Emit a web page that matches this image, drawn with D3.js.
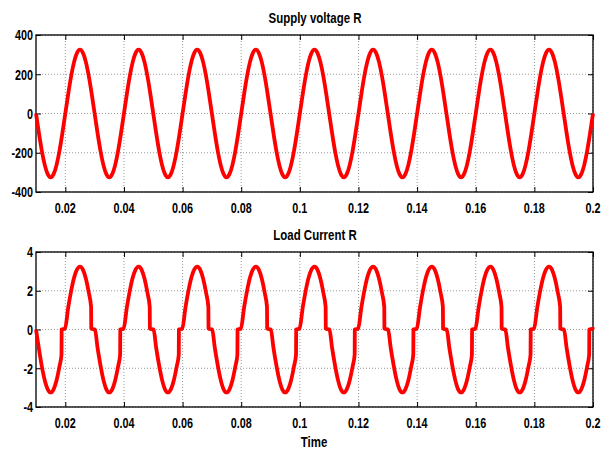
<!DOCTYPE html>
<html><head><meta charset="utf-8">
<script src="https://cdn.jsdelivr.net/npm/d3@7"></script>
<style>body{margin:0;background:#fff}svg{display:block}</style>
</head><body><svg id="c" width="612" height="450"></svg>
<script>
// ---- data ----
const xTicks = [0.02,0.04,0.06,0.08,0.1,0.12,0.14,0.16,0.18,0.2];
const xTickLabels = ["0.02","0.04","0.06","0.08","0.1","0.12","0.14","0.16","0.18","0.2"];
const voltTicks = [400,200,0,-200,-400];
const voltTickLabels = ["400","200","0","-200","-400"];
const currTicks = [4,2,0,-2,-4];
const currTickLabels = ["4","2","0","-2","-4"];
const titles = ["Supply voltage R","Load Current R"];
const xLabel = "Time";

// supply voltage, sampled every 1 ms from t = 0.010 s
const voltStart = 0.010, voltStep = 0.001;
const voltage = [
 0,-100,-191,-263,-309,-325,-309,-263,-191,-100, 0,100,191,263,309,325,309,263,191,100,
 0,-100,-191,-263,-309,-325,-309,-263,-191,-100, 0,100,191,263,309,325,309,263,191,100,
 0,-100,-191,-263,-309,-325,-309,-263,-191,-100, 0,100,191,263,309,325,309,263,191,100,
 0,-100,-191,-263,-309,-325,-309,-263,-191,-100, 0,100,191,263,309,325,309,263,191,100,
 0,-100,-191,-263,-309,-325,-309,-263,-191,-100, 0,100,191,263,309,325,309,263,191,100,
 0,-100,-191,-263,-309,-325,-309,-263,-191,-100, 0,100,191,263,309,325,309,263,191,100,
 0,-100,-191,-263,-309,-325,-309,-263,-191,-100, 0,100,191,263,309,325,309,263,191,100,
 0,-100,-191,-263,-309,-325,-309,-263,-191,-100, 0,100,191,263,309,325,309,263,191,100,
 0,-100,-191,-263,-309,-325,-309,-263,-191,-100, 0,100,191,263,309,325,309,263,191,100,
 0,-100,-191,-263,-309,-325,-309,-263,-191,-100, 0
];

// load current [time, value]
const current = [
 [0.010,0],[0.011,-1.0],[0.012,-1.91],[0.013,-2.63],[0.014,-3.09],[0.015,-3.25],[0.016,-3.09],[0.017,-2.63],[0.018,-1.91],[0.0187,-1.3],[0.01875,0],[0.0199,0.05],
 [0.021,1.15],[0.022,2.0],[0.023,2.68],[0.024,3.1],[0.025,3.25],[0.026,3.09],[0.027,2.63],[0.028,1.91],[0.0288,1.15],[0.02885,0.05],[0.0301,0],
 [0.031,-0.95],[0.032,-1.85],[0.033,-2.6],[0.034,-3.09],[0.035,-3.25],[0.036,-3.09],[0.037,-2.63],[0.038,-1.91],[0.0387,-1.3],[0.03875,0],[0.0399,0.05],
 [0.041,1.15],[0.042,2.0],[0.043,2.68],[0.044,3.1],[0.045,3.25],[0.046,3.09],[0.047,2.63],[0.048,1.91],[0.0488,1.15],[0.04885,0.05],[0.0501,0],
 [0.051,-0.95],[0.052,-1.85],[0.053,-2.6],[0.054,-3.09],[0.055,-3.25],[0.056,-3.09],[0.057,-2.63],[0.058,-1.91],[0.0587,-1.3],[0.05875,0],[0.0599,0.05],
 [0.061,1.15],[0.062,2.0],[0.063,2.68],[0.064,3.1],[0.065,3.25],[0.066,3.09],[0.067,2.63],[0.068,1.91],[0.0688,1.15],[0.06885,0.05],[0.0701,0],
 [0.071,-0.95],[0.072,-1.85],[0.073,-2.6],[0.074,-3.09],[0.075,-3.25],[0.076,-3.09],[0.077,-2.63],[0.078,-1.91],[0.0787,-1.3],[0.07875,0],[0.0799,0.05],
 [0.081,1.15],[0.082,2.0],[0.083,2.68],[0.084,3.1],[0.085,3.25],[0.086,3.09],[0.087,2.63],[0.088,1.91],[0.0888,1.15],[0.08885,0.05],[0.0901,0],
 [0.091,-0.95],[0.092,-1.85],[0.093,-2.6],[0.094,-3.09],[0.095,-3.25],[0.096,-3.09],[0.097,-2.63],[0.098,-1.91],[0.0987,-1.3],[0.09875,0],[0.0999,0.05],
 [0.101,1.15],[0.102,2.0],[0.103,2.68],[0.104,3.1],[0.105,3.25],[0.106,3.09],[0.107,2.63],[0.108,1.91],[0.1088,1.15],[0.10885,0.05],[0.1101,0],
 [0.111,-0.95],[0.112,-1.85],[0.113,-2.6],[0.114,-3.09],[0.115,-3.25],[0.116,-3.09],[0.117,-2.63],[0.118,-1.91],[0.1187,-1.3],[0.11875,0],[0.1199,0.05],
 [0.121,1.15],[0.122,2.0],[0.123,2.68],[0.124,3.1],[0.125,3.25],[0.126,3.09],[0.127,2.63],[0.128,1.91],[0.1288,1.15],[0.12885,0.05],[0.1301,0],
 [0.131,-0.95],[0.132,-1.85],[0.133,-2.6],[0.134,-3.09],[0.135,-3.25],[0.136,-3.09],[0.137,-2.63],[0.138,-1.91],[0.1387,-1.3],[0.13875,0],[0.1399,0.05],
 [0.141,1.15],[0.142,2.0],[0.143,2.68],[0.144,3.1],[0.145,3.25],[0.146,3.09],[0.147,2.63],[0.148,1.91],[0.1488,1.15],[0.14885,0.05],[0.1501,0],
 [0.151,-0.95],[0.152,-1.85],[0.153,-2.6],[0.154,-3.09],[0.155,-3.25],[0.156,-3.09],[0.157,-2.63],[0.158,-1.91],[0.1587,-1.3],[0.15875,0],[0.1599,0.05],
 [0.161,1.15],[0.162,2.0],[0.163,2.68],[0.164,3.1],[0.165,3.25],[0.166,3.09],[0.167,2.63],[0.168,1.91],[0.1688,1.15],[0.16885,0.05],[0.1701,0],
 [0.171,-0.95],[0.172,-1.85],[0.173,-2.6],[0.174,-3.09],[0.175,-3.25],[0.176,-3.09],[0.177,-2.63],[0.178,-1.91],[0.1787,-1.3],[0.17875,0],[0.1799,0.05],
 [0.181,1.15],[0.182,2.0],[0.183,2.68],[0.184,3.1],[0.185,3.25],[0.186,3.09],[0.187,2.63],[0.188,1.91],[0.1888,1.15],[0.18885,0.05],[0.1901,0],
 [0.191,-0.95],[0.192,-1.85],[0.193,-2.6],[0.194,-3.09],[0.195,-3.25],[0.196,-3.09],[0.197,-2.63],[0.198,-1.91],[0.1987,-1.3],[0.19875,0],[0.1999,0.05],
 [0.2000,0.12]
];

// ---- drawing ----
const svg = d3.select("#c");
const FONT = "'Liberation Sans', Arial, Helvetica, sans-serif";
const left = 36, right = 593;
const x = d3.scaleLinear().domain([0.01, 0.2]).range([left, right]);

function label(g, px, py, txt, anchor, size, sx) {
  g.append("text")
    .attr("transform", `translate(${px},${py}) scale(${sx},1)`)
    .attr("text-anchor", anchor)
    .attr("font-family", FONT)
    .attr("font-weight", "bold")
    .attr("font-size", size)
    .attr("fill", "#000")
    .text(txt);
}

function panel(top, bottom, yDomain, yTicks, yLabels, points, curve, title) {
  const y = d3.scaleLinear().domain(yDomain).range([bottom, top]);
  const g = svg.append("g");

  // grid
  const grid = g.append("g").attr("stroke", "#7f7f7f").attr("stroke-width", 0.8).attr("stroke-dasharray", "1,2");
  xTicks.forEach(t => grid.append("line").attr("x1", x(t)).attr("x2", x(t)).attr("y1", top).attr("y2", bottom));
  yTicks.forEach(t => grid.append("line").attr("x1", left).attr("x2", right).attr("y1", y(t)).attr("y2", y(t)));

  // axes with inward ticks
  const axB = g.append("g").attr("transform", `translate(0,${bottom})`)
    .call(d3.axisBottom(x).tickValues(xTicks).tickSize(-5).tickFormat(""));
  const axT = g.append("g").attr("transform", `translate(0,${top})`)
    .call(d3.axisTop(x).tickValues(xTicks).tickSize(-5).tickFormat(""));
  const axL = g.append("g").attr("transform", `translate(${left},0)`)
    .call(d3.axisLeft(y).tickValues(yTicks).tickSize(-5).tickFormat(""));
  const axR = g.append("g").attr("transform", `translate(${right},0)`)
    .call(d3.axisRight(y).tickValues(yTicks).tickSize(-5).tickFormat(""));
  [axB, axT, axL, axR].forEach(a => {
    a.selectAll(".domain").remove();
    a.selectAll("line").attr("stroke", "#000").attr("stroke-width", 1);
  });
  g.append("rect").attr("x", left).attr("y", top).attr("width", right - left).attr("height", bottom - top)
    .attr("fill", "none").attr("stroke", "#000").attr("stroke-width", 1.3);

  // labels
  yTicks.forEach((t, i) => label(g, left - 3, y(t) + 5.3, yLabels[i], "end", 15, 0.72));
  xTicks.forEach((t, i) => label(g, x(t), bottom + 20.5, xTickLabels[i], "middle", 15, 0.72));
  label(g, (left + right) / 2 + 0.5, top - 12.5, title, "middle", 15.5, 0.74);

  // series
  const line = d3.line().x(d => x(d[0])).y(d => y(d[1])).curve(curve);
  g.append("path").datum(points).attr("d", line)
    .attr("fill", "none").attr("stroke", "#ff0000").attr("stroke-width", 3.8)
    .attr("stroke-linejoin", "round");
  return g;
}

const voltPoints = voltage.map((v, i) => [voltStart + i * voltStep, v]);
panel(35, 192, [-400, 400], voltTicks, voltTickLabels, voltPoints, d3.curveNatural, titles[0]);
const g2 = panel(252, 407, [-4, 4], currTicks, currTickLabels, current, d3.curveMonotoneX, titles[1]);
label(g2, 314, 446.5, xLabel, "middle", 15.5, 0.74);
</script></body></html>
